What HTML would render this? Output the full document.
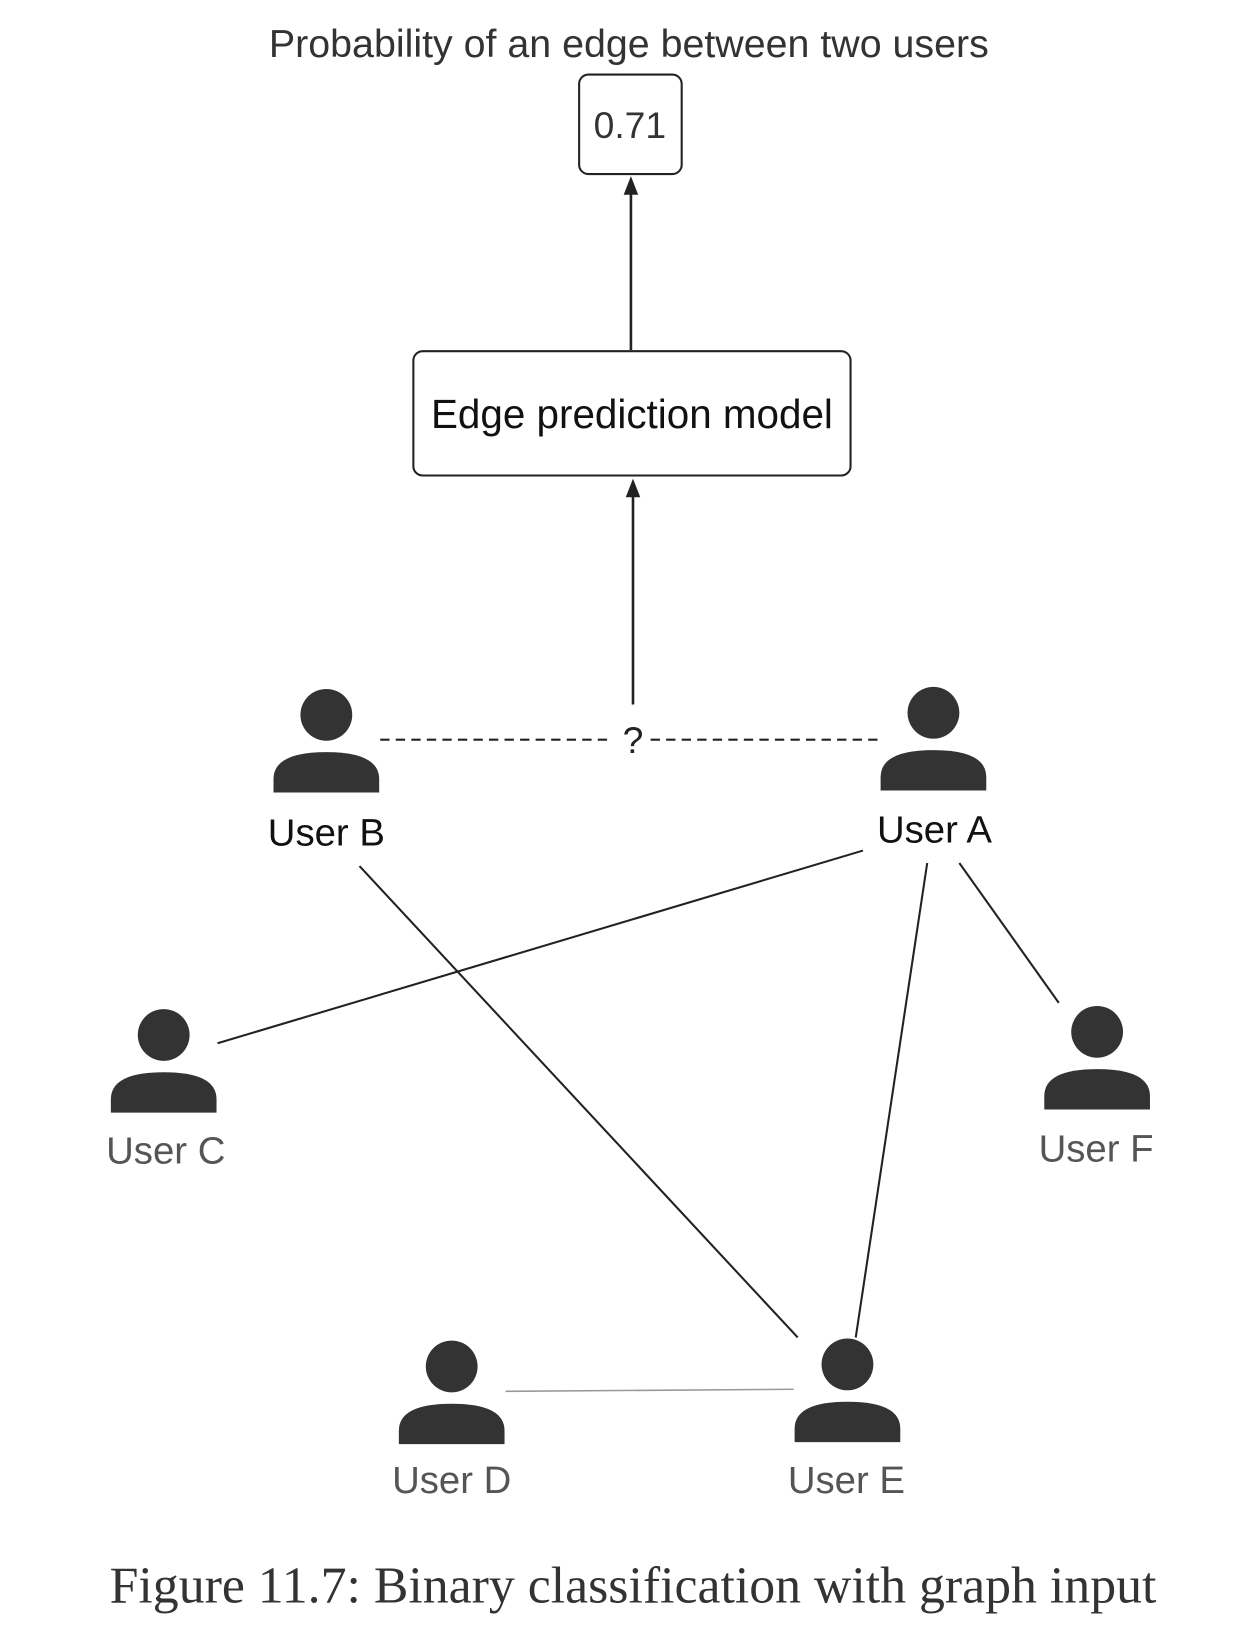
<!DOCTYPE html>
<html><head><meta charset="utf-8"><style>
html,body{margin:0;padding:0;background:#fff;}
svg{display:block;}
</style></head><body>
<svg width="1250" height="1626" viewBox="0 0 1250 1626" xmlns="http://www.w3.org/2000/svg">
<defs>
<g id="p">
<circle cx="0" cy="0" r="25" fill="#333"/>
<path d="M-51,75 L-51,62 Q-51,36 0,36 Q51,36 51,62 L51,75 Z" fill="#333"/>
</g>
</defs>
<g transform="scale(1.036)" font-family="Liberation Sans, sans-serif" fill="#222" text-anchor="middle">
<text x="607" y="55" font-size="38" fill="#333">Probability of an edge between two users</text>
<rect x="559" y="72" width="99" height="96" rx="9" fill="#fff" stroke="#222" stroke-width="2"/>
<text x="608" y="133" font-size="36" fill="#333">0.71</text>
<line x1="609" y1="338" x2="609" y2="185" stroke="#222" stroke-width="2.5"/>
<polygon points="609,170 602,188 616,188" fill="#222"/>
<rect x="399" y="339" width="422" height="120" rx="9" fill="#fff" stroke="#222" stroke-width="2"/>
<text x="610" y="413" font-size="39" fill="#111">Edge prediction model</text>
<line x1="611" y1="680" x2="611" y2="477" stroke="#222" stroke-width="2.5"/>
<polygon points="611,462 604,480 618,480" fill="#222"/>
<line x1="367" y1="714" x2="590" y2="714" stroke="#222" stroke-width="2" stroke-dasharray="9,6"/>
<line x1="628" y1="714" x2="850" y2="714" stroke="#222" stroke-width="2" stroke-dasharray="9,6"/>
<text x="611" y="727" font-size="36">?</text>
<line x1="833" y1="821" x2="210" y2="1007" stroke="#222" stroke-width="2"/>
<line x1="347" y1="836" x2="770" y2="1291" stroke="#222" stroke-width="2"/>
<line x1="895" y1="833" x2="826" y2="1291" stroke="#222" stroke-width="2"/>
<line x1="926" y1="833" x2="1022" y2="968" stroke="#222" stroke-width="2"/>
<line x1="488" y1="1343" x2="766" y2="1341" stroke="#999" stroke-width="1.5"/>
<use href="#p" x="315" y="690"/>
<use href="#p" x="901" y="688"/>
<use href="#p" x="158" y="999"/>
<use href="#p" x="1059" y="996"/>
<use href="#p" x="436" y="1319"/>
<use href="#p" x="818" y="1317"/>
<text x="315" y="816" font-size="37" fill="#111">User B</text>
<text x="902" y="813" font-size="37" fill="#111">User A</text>
<text x="160" y="1123" font-size="37" fill="#555">User C</text>
<text x="1058" y="1121" font-size="37" fill="#555">User F</text>
<text x="436" y="1441" font-size="37" fill="#555">User D</text>
<text x="817" y="1441" font-size="37" fill="#555">User E</text>
<text x="611" y="1547" font-size="50" font-family="Liberation Serif, serif" fill="#333">Figure 11.7: Binary classification with graph input</text>
</g>
</svg>
</body></html>
